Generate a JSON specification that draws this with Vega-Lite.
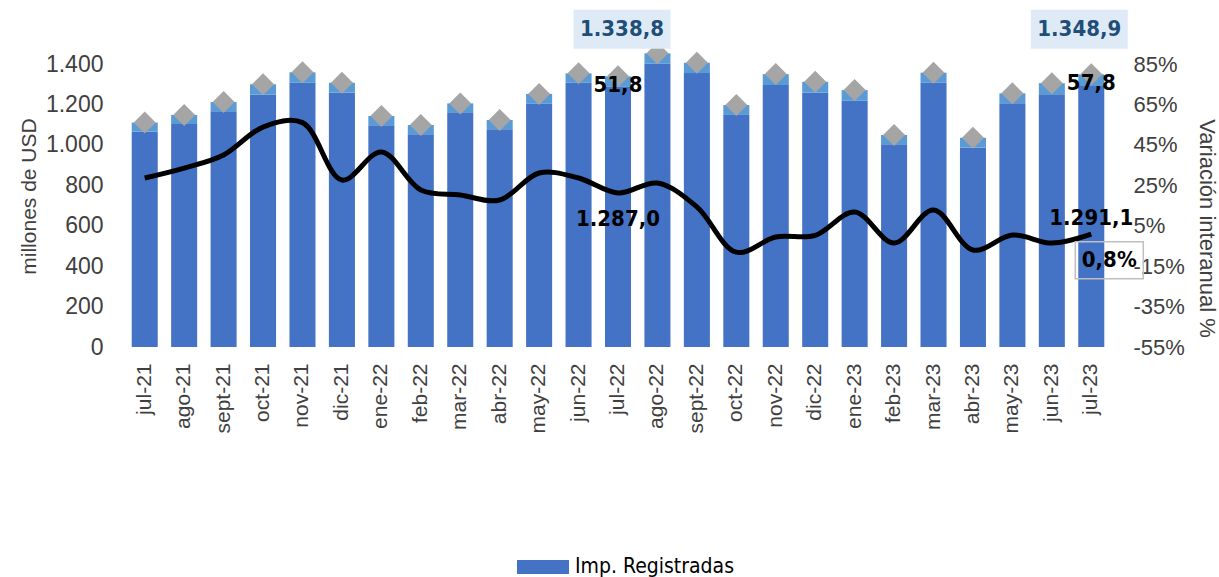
{
  "$schema": "https://vega.github.io/schema/vega-lite/v6.json",
  "width": 986,
  "height": 283,
  "autosize": {"type": "none"},
  "padding": {"left": 125, "top": 64, "right": 108, "bottom": 230},
  "background": "white",
  "config": {
    "locale": {"number": {"decimal": ",", "thousands": ".", "grouping": [3], "currency": ["", ""], "minus": "-"}},
    "view": {"stroke": null},
    "axis": {"labelFont": "Liberation Sans", "titleFont": "Liberation Sans", "labelColor": "#404040", "titleColor": "#404040", "ticks": false, "domain": false, "grid": false, "titleFontWeight": "normal"}
  },
  "data": {"values": [
    {"mes": "jul-21", "dark": 1065, "light": 45, "total": 1110, "var": 0.286},
    {"mes": "ago-21", "dark": 1103, "light": 45, "total": 1148, "var": 0.335},
    {"mes": "sept-21", "dark": 1166, "light": 46, "total": 1212, "var": 0.40},
    {"mes": "oct-21", "dark": 1248, "light": 52, "total": 1300, "var": 0.538},
    {"mes": "nov-21", "dark": 1307, "light": 52, "total": 1359, "var": 0.56},
    {"mes": "dic-21", "dark": 1258, "light": 49, "total": 1307, "var": 0.276},
    {"mes": "ene-22", "dark": 1097, "light": 46, "total": 1143, "var": 0.415},
    {"mes": "feb-22", "dark": 1052, "light": 46, "total": 1098, "var": 0.227},
    {"mes": "mar-22", "dark": 1161, "light": 44, "total": 1205, "var": 0.202},
    {"mes": "abr-22", "dark": 1077, "light": 46, "total": 1123, "var": 0.177},
    {"mes": "may-22", "dark": 1204, "light": 48, "total": 1252, "var": 0.311},
    {"mes": "jun-22", "dark": 1307, "light": 47, "total": 1354, "var": 0.286},
    {"mes": "jul-22", "dark": 1287.0, "light": 51.8, "total": 1338.8, "var": 0.212},
    {"mes": "ago-22", "dark": 1401, "light": 52, "total": 1453, "var": 0.261},
    {"mes": "sept-22", "dark": 1355, "light": 51, "total": 1406, "var": 0.143},
    {"mes": "oct-22", "dark": 1148, "light": 49, "total": 1197, "var": -0.081},
    {"mes": "nov-22", "dark": 1296, "light": 54, "total": 1350, "var": -0.006},
    {"mes": "dic-22", "dark": 1258, "light": 54, "total": 1312, "var": 0.002},
    {"mes": "ene-23", "dark": 1218, "light": 53, "total": 1271, "var": 0.118},
    {"mes": "feb-23", "dark": 1003, "light": 46, "total": 1049, "var": -0.036},
    {"mes": "mar-23", "dark": 1307, "light": 50, "total": 1357, "var": 0.128},
    {"mes": "abr-23", "dark": 986, "light": 49, "total": 1035, "var": -0.07},
    {"mes": "may-23", "dark": 1206, "light": 49, "total": 1255, "var": 0.004},
    {"mes": "jun-23", "dark": 1250, "light": 55, "total": 1305, "var": -0.036},
    {"mes": "jul-23", "dark": 1291.1, "light": 57.8, "total": 1348.9, "var": 0.008}
  ]},
  "encoding": {
    "x": {
      "field": "mes", "type": "nominal", "sort": null,
      "scale": {"paddingInner": 0.34, "paddingOuter": 0.17},
      "axis": {"title": null, "labelAngle": -90, "labelFontSize": 21, "labelPadding": 16}
    }
  },
  "layer": [
    {
      "layer": [
        {
          "mark": {"type": "bar"},
          "encoding": {
            "y": {"field": "dark", "type": "quantitative", "scale": {"domain": [0, 1400], "nice": false},
              "axis": {"title": "millones de USD", "values": [0, 200, 400, 600, 800, 1000, 1200, 1400], "format": ",.0f", "labelFontSize": 23, "labelPadding": 22, "titleFontSize": 21, "titlePadding": 6, "titleY": 132}},
            "color": {"datum": "Imp. Registradas", "scale": {"range": ["#4472C4"]},
              "legend": {"orient": "none", "legendX": 392, "legendY": 477, "title": null, "padding": 0,
                "symbolType": "M-1,-0.27H1V0.27H-1Z", "symbolSize": 2704, "symbolStrokeWidth": 0,
                "labelFont": "DejaVu Sans Condensed", "labelFontSize": 21, "labelColor": "#000000", "labelOffset": 6}}
          }
        },
        {
          "mark": {"type": "bar", "color": "#5B9BD5"},
          "encoding": {
            "y": {"field": "dark", "type": "quantitative", "axis": {"title": "millones de USD"}},
            "y2": {"field": "total"}
          }
        },
        {
          "mark": {"type": "point", "shape": "diamond", "filled": true, "color": "#A5A5A5", "size": 484, "opacity": 1},
          "encoding": {
            "y": {"field": "total", "type": "quantitative", "axis": {"title": "millones de USD"}}
          }
        }
      ]
    },
    {
      "layer": [
        {
          "mark": {"type": "line", "color": "#000000", "strokeWidth": 5, "interpolate": "catmull-rom"},
          "encoding": {
            "y": {"field": "var", "type": "quantitative", "scale": {"domain": [-0.55, 0.85], "nice": false},
              "axis": {"orient": "right", "title": "Variación interanual %", "values": [-0.55, -0.35, -0.15, 0.05, 0.25, 0.45, 0.65, 0.85], "format": ".0%", "labelFontSize": 22, "labelPadding": 22, "titleFontSize": 22, "titlePadding": 10, "titleY": 164}}
          }
        },
        {
          "transform": [{"filter": "datum.mes == 'jul-23'"}],
          "mark": {"type": "point", "shape": "M-1,-0.544H1V0.544H-1Z", "size": 4624, "filled": false, "color": "#BFBFBF", "strokeWidth": 1.5, "opacity": 1, "xOffset": 18, "yOffset": 26},
          "encoding": {
            "y": {"field": "var", "type": "quantitative", "axis": {"title": "Variación interanual %"}}
          }
        },
        {
          "transform": [{"filter": "datum.mes == 'jul-23'"}],
          "mark": {"type": "text", "font": "DejaVu Sans Condensed", "fontWeight": "bold", "fontSize": 22, "color": "#000000", "xOffset": 18, "yOffset": 26, "baseline": "middle"},
          "encoding": {
            "y": {"field": "var", "type": "quantitative", "axis": {"title": "Variación interanual %"}},
            "text": {"field": "var", "type": "quantitative", "format": ".1%"}
          }
        }
      ]
    },
    {
      "layer": [
        {
          "transform": [{"filter": "datum.mes == 'jul-22'"}],
          "mark": {"type": "point", "shape": "M-1,-0.402H1V0.402H-1Z", "size": 9409, "filled": true, "color": "#DEEBF7", "opacity": 1, "xOffset": 4, "yOffset": -47},
          "encoding": {"y": {"field": "total", "type": "quantitative", "scale": {"domain": [0, 1400], "nice": false}, "axis": null}}
        },
        {
          "transform": [{"filter": "datum.mes == 'jul-23'"}],
          "mark": {"type": "point", "shape": "M-1,-0.402H1V0.402H-1Z", "size": 9409, "filled": true, "color": "#DEEBF7", "opacity": 1, "xOffset": -12, "yOffset": -45},
          "encoding": {"y": {"field": "total", "type": "quantitative", "axis": null}}
        },
        {
          "transform": [{"filter": "datum.mes == 'jul-22'"}],
          "mark": {"type": "text", "font": "DejaVu Sans Condensed", "fontWeight": "bold", "fontSize": 22, "color": "#1F4E79", "xOffset": 4, "yOffset": -47, "baseline": "middle"},
          "encoding": {"y": {"field": "total", "type": "quantitative", "axis": null}, "text": {"field": "total", "type": "quantitative", "format": ",.1f"}}
        },
        {
          "transform": [{"filter": "datum.mes == 'jul-23'"}],
          "mark": {"type": "text", "font": "DejaVu Sans Condensed", "fontWeight": "bold", "fontSize": 22, "color": "#1F4E79", "xOffset": -12, "yOffset": -45, "baseline": "middle"},
          "encoding": {"y": {"field": "total", "type": "quantitative", "axis": null}, "text": {"field": "total", "type": "quantitative", "format": ",.1f"}}
        },
        {
          "transform": [{"filter": "datum.mes == 'jul-22' || datum.mes == 'jul-23'"}],
          "mark": {"type": "text", "font": "DejaVu Sans Condensed", "fontWeight": "bold", "fontSize": 22, "color": "#000000", "yOffset": 9, "baseline": "middle"},
          "encoding": {"y": {"field": "total", "type": "quantitative", "axis": null}, "text": {"field": "light", "type": "quantitative", "format": ",.1f"}}
        },
        {
          "transform": [{"filter": "datum.mes == 'jul-22' || datum.mes == 'jul-23'"}],
          "mark": {"type": "text", "font": "DejaVu Sans Condensed", "fontWeight": "bold", "fontSize": 22, "color": "#000000", "yOffset": 132, "baseline": "middle"},
          "encoding": {"y": {"field": "dark", "type": "quantitative", "axis": null}, "text": {"field": "dark", "type": "quantitative", "format": ",.1f"}}
        }
      ]
    }
  ],
  "resolve": {"scale": {"y": "independent"}}
}
